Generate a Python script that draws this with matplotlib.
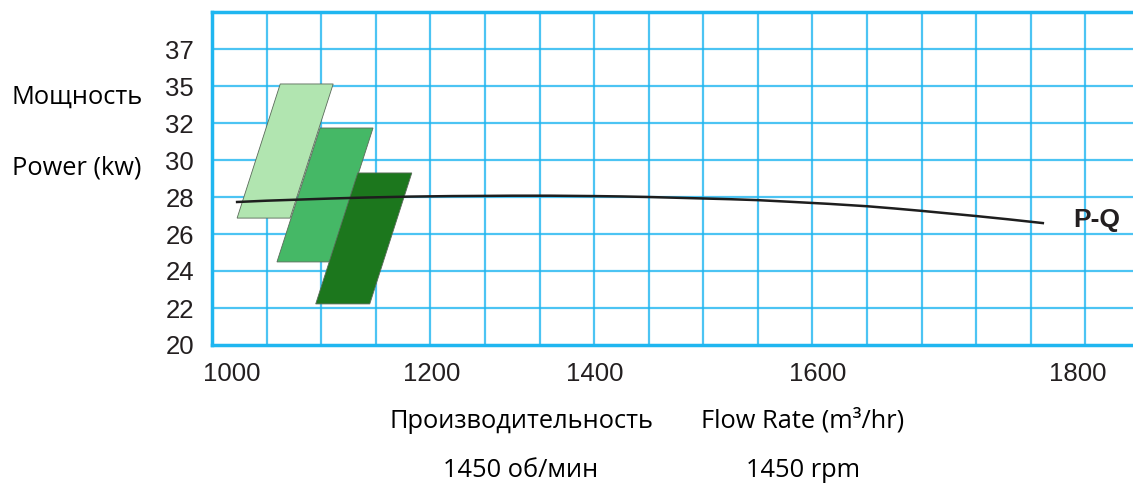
import matplotlib
matplotlib.use("Agg")
import matplotlib.pyplot as plt
from matplotlib.patches import Polygon

# -------------------------------------------------
# Данные (ось X в клетках сетки, ось Y в кВт)
# -------------------------------------------------

x_tick_pos = [0.36, 4.03, 7.01, 11.10, 15.86]
x_tick_labels = ["1000", "1200", "1400", "1600", "1800"]

y_tick_pos = [20, 22, 24, 26, 28, 30, 32, 34, 36]
y_tick_labels = ["20", "22", "24", "26", "28", "30", "32", "35", "37"]

# кривая P-Q
pq_x = [0.46, 1.0, 1.6, 2.2, 2.8, 3.6, 4.4, 5.0, 5.5, 6.2, 7.0, 7.5, 8.0, 8.5,
        9.0, 9.5, 10.0, 10.6, 11.3, 12.0, 12.5, 13.0, 13.5, 14.0, 14.6, 15.22]
pq_y = [27.73, 27.80, 27.86, 27.92, 27.97, 28.02, 28.05, 28.06, 28.07, 28.07,
        28.05, 28.03, 28.0, 27.96, 27.92, 27.88, 27.83, 27.74, 27.63, 27.50,
        27.38, 27.25, 27.11, 26.97, 26.79, 26.59]

# параллелограммы рабочих зон
light_x = [0.46, 1.43, 2.22, 1.25]
light_y = [26.86, 26.86, 34.11, 34.11]
mid_x = [1.19, 2.16, 2.95, 1.98]
mid_y = [24.49, 24.49, 31.73, 31.73]
dark_x = [1.90, 2.89, 3.66, 2.67]
dark_y = [22.22, 22.22, 29.30, 29.30]

zone_colors = ["#b1e5b0", "#45b866", "#1c771d"]

grid_color = "#1fb6f0"
text_color = "#231f20"

# -------------------------------------------------
# Фигура
# -------------------------------------------------

W, H = 1133, 490
fig = plt.figure(figsize=(W / 100, H / 100), dpi=100)

left, right, top, bottom = 212, 1140, 12, 345
ax = fig.add_axes([left / W, (H - bottom) / H, (right - left) / W, (bottom - top) / H])

ax.set_xlim(0, 17)
ax.set_ylim(20, 38)

# сетка
for gx in range(1, 17):
    ax.axvline(gx, color=grid_color, lw=1.6, alpha=0.8, zorder=1)
for gy in range(22, 38, 2):
    ax.axhline(gy, color=grid_color, lw=1.6, alpha=0.8, zorder=1)

for side in ["left", "bottom", "top"]:
    ax.spines[side].set_color(grid_color)
    ax.spines[side].set_linewidth(2.5)
ax.spines["right"].set_visible(False)

# зоны
for xs, ys, c in zip([light_x, mid_x, dark_x], [light_y, mid_y, dark_y], zone_colors):
    poly = Polygon(list(zip(xs, ys)), closed=True, facecolor=c,
                   edgecolor="#5a6a5a", lw=0.6, zorder=3)
    ax.add_patch(poly)

# кривая
ax.plot(pq_x, pq_y, color="#1e1e1e", lw=1.8, zorder=4, solid_joinstyle="round")
ax.text(15.77, 26.76, "P-Q", fontsize=19, fontweight="bold", color=text_color,
        family="Liberation Sans", ha="left", va="center")

# подписи осей
ax.set_xticks(x_tick_pos)
ax.set_xticklabels(x_tick_labels, family="Liberation Sans", fontsize=18.5, color=text_color)
ax.set_yticks(y_tick_pos)
ax.set_yticklabels(y_tick_labels, family="Liberation Sans", fontsize=18.5, color=text_color)
ax.tick_params(axis="x", length=0, pad=12)
ax.tick_params(axis="y", length=0, pad=13)

fs = 18.3
fam = "Open Sans"
fig.text(77 / W, 1 - 97 / H, "Мощность", fontsize=fs, family=fam, ha="center", va="center")
fig.text(77 / W, 1 - 168 / H, "Power (kw)", fontsize=fs, family=fam, ha="center", va="center")
fig.text(521 / W, 1 - 421 / H, "Производительность", fontsize=fs, family=fam, ha="center", va="center")
fig.text(803 / W, 1 - 421 / H, "Flow Rate (m³/hr)", fontsize=fs, family=fam, ha="center", va="center")
fig.text(521 / W, 1 - 470 / H, "1450 об/мин", fontsize=fs, family=fam, ha="center", va="center")
fig.text(803 / W, 1 - 470 / H, "1450 rpm", fontsize=fs, family=fam, ha="center", va="center")

fig.savefig("out.png", dpi=100)
